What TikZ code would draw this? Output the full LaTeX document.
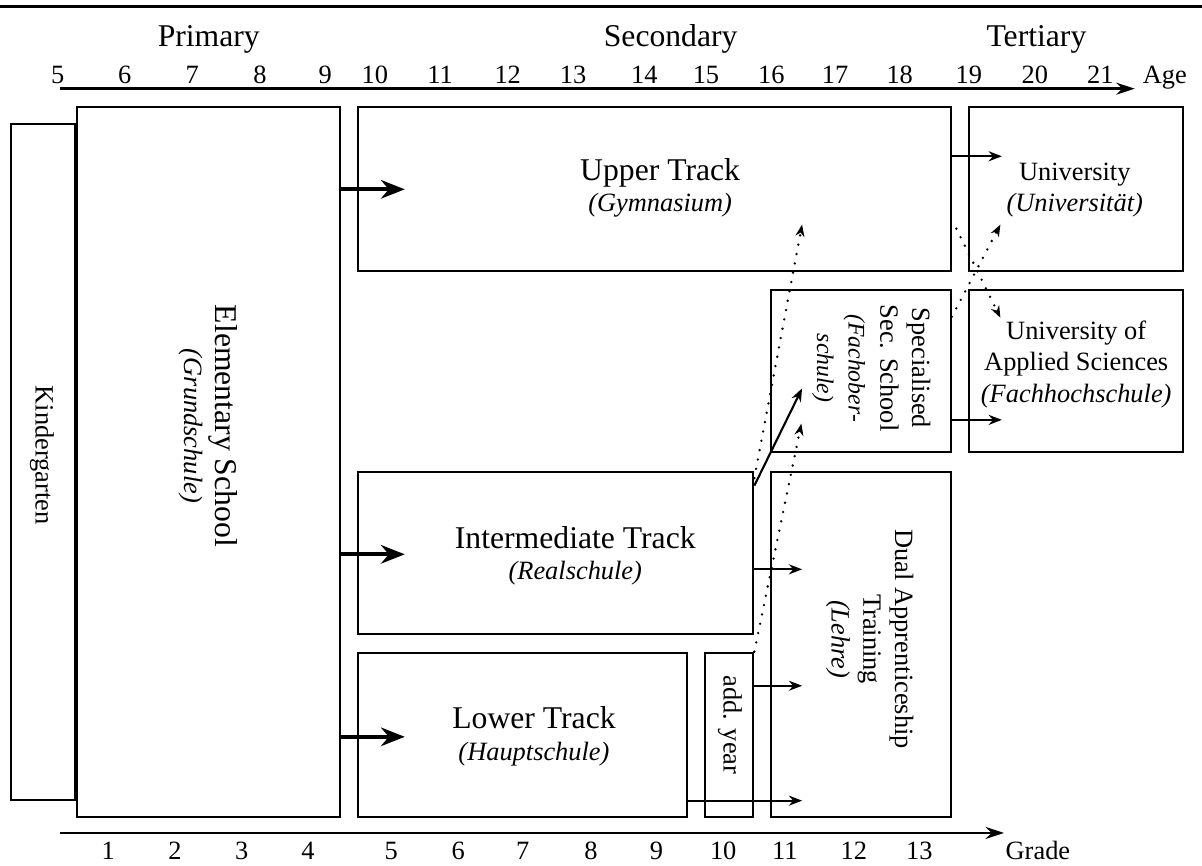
\documentclass[tikz,border=0pt]{standalone}
\usepackage{fontspec}
\setmainfont{Liberation Serif}
\usetikzlibrary{arrows.meta}

\tikzset{
  box/.style={draw, thick, inner sep=0pt},
  flow/.style={thick, -{Stealth[length=5pt,width=3.8pt]}},
  bigflow/.style={line width=1.6pt, -{Stealth[length=9pt,width=7pt]}},
  maybe/.style={line width=1pt, dash pattern=on 0pt off 3.6pt, line cap=round,
    -{Stealth[length=4.5pt,width=3.4pt]}},
  axis/.style={line width=1.1pt, -{Stealth[length=7pt,width=4.5pt]}},
}

\begin{document}
\begin{tikzpicture}

  \useasboundingbox (0,0) rectangle (16.005,11.531);

  % rule and stage headings
  \coordinate (rule-l) at (0,11.44);
  \coordinate (rule-r) at (16.005,11.44);
  \draw[line width=1.2pt] (rule-l) -- (rule-r);
  \node[font=\large, anchor=base] (primary)   at (2.78,10.91)  {Primary};
  \node[font=\large, anchor=base] (secondary) at (8.93,10.91)  {Secondary};
  \node[font=\large, anchor=base] (tertiary)  at (13.80,10.91) {Tertiary};

  % age axis
  \foreach \x/\a in {0.77/5, 1.66/6, 2.56/7, 3.46/8, 4.33/9, 4.99/10, 5.86/11,
                     6.76/12, 7.63/13, 8.58/14, 9.40/15, 10.27/16, 11.12/17,
                     11.98/18, 12.90/19, 13.78/20, 14.65/21}
    \node[anchor=base] (age\a) at (\x,10.42) {\a};
  \node[anchor=base] (age) at (15.51,10.42) {Age};
  \coordinate (age-l) at (0.80,10.35);
  \coordinate (age-r) at (15.11,10.35);
  \draw[axis] (age-l) -- (age-r);

  % grade axis
  \foreach \x/\g in {1.44/1, 2.33/2, 3.22/3, 4.10/4, 5.21/5, 6.10/6, 6.96/7,
                     7.87/8, 8.74/9, 9.63/10, 10.45/11, 11.37/12, 12.24/13}
    \node[anchor=base] (grade\g) at (\x,0.08) {\g};
  \node[anchor=base] (grade) at (13.82,0.08) {Grade};
  \coordinate (grade-l) at (0.80,0.44);
  \coordinate (grade-r) at (13.37,0.44);
  \draw[axis] (grade-l) -- (grade-r);

  % schools
  \node[box, minimum width=0.85cm, minimum height=9.00cm] (kinder)  at (0.575,5.38)  {};
  \node[box, minimum width=3.50cm, minimum height=9.46cm] (elem)    at (2.78,5.38)   {};
  \node[box, minimum width=7.89cm, minimum height=2.19cm] (upper)   at (8.715,9.015) {};
  \node[box, minimum width=2.85cm, minimum height=2.19cm] (uni)     at (14.325,9.015){};
  \node[box, minimum width=2.39cm, minimum height=2.16cm] (spec)    at (11.465,6.59) {};
  \node[box, minimum width=2.85cm, minimum height=2.16cm] (uas)     at (14.325,6.59) {};
  \node[box, minimum width=5.26cm, minimum height=2.16cm] (inter)   at (7.40,4.17)   {};
  \node[box, minimum width=2.39cm, minimum height=4.60cm] (dual)    at (11.465,2.95) {};
  \node[box, minimum width=4.38cm, minimum height=2.19cm] (lower)   at (6.96,1.745)  {};
  \node[box, minimum width=0.64cm, minimum height=2.19cm] (addyear) at (9.71,1.745)  {};

  % school names
  \node[rotate=-90] (kinder-txt) at (0.56,5.47) {Kindergarten};
  \node[align=center, rotate=-90] (elem-txt) at (2.77,5.86)
    {{\large Elementary School}\\\textit{(Grundschule)}};
  \node[align=center] (upper-txt) at (8.79,9.03)
    {{\large Upper Track}\\\textit{(Gymnasium)}};
  \node[align=center] (uni-txt) at (14.31,9.00)
    {University\\\textit{(Universität)}};
  \node[align=center] (uas-txt) at (14.33,6.68)
    {University of\\Applied Sciences\\\textit{(Fachhochschule)}};
  \node[align=center, rotate=-90] (spec-txt) at (11.60,6.63)
    {Specialised\\Sec. School\\{\small\itshape (Fachober-}\\{\small\itshape schule)}};
  \node[align=center] (inter-txt) at (7.66,4.13)
    {{\large Intermediate Track}\\\textit{(Realschule)}};
  \node[align=center] (lower-txt) at (7.11,1.73)
    {{\large Lower Track}\\\textit{(Hauptschule)}};
  \node[rotate=-90] (addyear-txt) at (9.72,1.88) {add. year};
  \node[align=center, rotate=-90] (dual-txt) at (11.58,3.02)
    {Dual Apprenticeship\\Training\\\textit{(Lehre)}};

  % from elementary school
  \coordinate (to-upper) at (5.39,9.01);
  \coordinate (to-inter) at (5.39,4.15);
  \coordinate (to-lower) at (5.39,1.72);
  \foreach \t in {upper,inter,lower}
    \draw[bigflow] (elem.east |- to-\t) -- (to-\t);

  % regular paths
  \coordinate (to-uni) at (13.34,9.45);
  \coordinate (to-uas) at (13.34,5.94);
  \draw[flow] (upper.east |- to-uni) -- (to-uni);
  \draw[flow] (spec.east |- to-uas) -- (to-uas);
  \coordinate (dual-a) at (10.68,3.95);
  \coordinate (dual-b) at (10.68,2.40);
  \coordinate (dual-c) at (10.68,0.87);
  \draw[flow] (inter.east |- dual-a) -- (dual-a);
  \draw[flow] (addyear.east |- dual-b) -- (dual-b);
  \draw[flow] (lower.east |- dual-c) -- (dual-c);
  \coordinate (to-spec) at (10.68,6.36);
  \draw[flow] ([yshift=-0.2cm]inter.north east) -- (to-spec);

  % possible transfers
  \coordinate (up-a) at (10.68,8.54);
  \coordinate (up-b) at (10.67,5.89);
  \coordinate (up-c) at (13.32,8.54);
  \coordinate (down-d) at (13.32,7.30);
  \draw[maybe] ([yshift=-0.1cm]inter.north east) -- (up-a);
  \draw[maybe] (addyear.north east) -- (up-b);
  \draw[maybe] ([yshift=-0.37cm]spec.north east) -- (up-c);
  \draw[maybe] ([shift={(0.06,0.58)}]upper.south east) -- (down-d);

\end{tikzpicture}
\end{document}
